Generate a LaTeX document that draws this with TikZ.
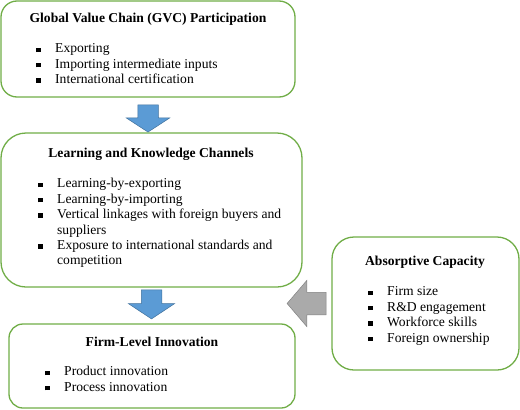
\documentclass[tikz,border=0pt]{standalone}
\usepackage{fontspec}
\setmainfont{Liberation Serif}
\usepackage{tikz}
\usetikzlibrary{positioning,shapes.arrows}
\definecolor{boxgreen}{RGB}{112,173,71}
\definecolor{arrowblue}{RGB}{91,155,213}
\definecolor{arrowblueline}{RGB}{65,113,156}
\definecolor{arrowgray}{RGB}{170,170,170}
\definecolor{arrowgrayline}{RGB}{130,130,130}
\newcommand{\sqbullet}{\rule[0.15ex]{4.4pt}{4.4pt}}

\begin{document}
\begin{tikzpicture}[%
      x=1pt, y=-1pt,
      font=\fontsize{13.6}{15.4}\selectfont,
      box/.style={draw=boxgreen, line width=1.3pt, inner sep=0pt},
      heading/.style={font=\fontsize{13.6}{15.4}\selectfont\bfseries, inner sep=0pt},
      items/.style={anchor=north west, inner sep=0pt},
      bluearrow/.style={single arrow, shape border rotate=270, fill=arrowblue,
        draw=arrowblueline, line width=0.5pt},
      grayarrow/.style={single arrow, shape border rotate=180, fill=arrowgray,
        draw=arrowgrayline, line width=0.5pt},
      ]
      \useasboundingbox (0,0) rectangle (520,410);

      \node [box, rounded corners=16pt, minimum width=294pt, minimum height=96pt] (gvc) at (148,49) {};
      \node [box, rounded corners=25pt, minimum width=301pt, minimum height=154pt] (learn) at (151.5,210) {};
      \node [box, rounded corners=14pt, minimum width=286pt, minimum height=84pt] (firm) at (152,366) {};
      \node [box, rounded corners=22pt, minimum width=187pt, minimum height=133pt] (absorb) at (425.5,303.5) {};

      \node [heading] (gvctitle) at (148,19) {Global Value Chain (GVC) Participation};
      \node [items] (gvclist) at (36,42) {%
        \begin{tabular}{@{}l@{\hspace{14.6pt}}l@{}}
          \sqbullet & Exporting\\
          \sqbullet & Importing intermediate inputs\\
          \sqbullet & International certification
        \end{tabular}};

      \node [heading] (learntitle) at (151,154) {Learning and Knowledge Channels};
      \node [items] (learnlist) at (38,177) {%
        \begin{tabular}{@{}l@{\hspace{14.6pt}}l@{}}
          \sqbullet & Learning-by-exporting\\
          \sqbullet & Learning-by-importing\\
          \sqbullet & Vertical linkages with foreign buyers and\\
                    & suppliers\\
          \sqbullet & Exposure to international standards and\\
                    & competition
        \end{tabular}};

      \node [heading] (firmtitle) at (152,342) {Firm-Level Innovation};
      \node [items] (firmlist) at (45,365) {%
        \begin{tabular}{@{}l@{\hspace{14.6pt}}l@{}}
          \sqbullet & Product innovation\\
          \sqbullet & Process innovation
        \end{tabular}};

      \node [heading] (absorbtitle) at (425,262) {Absorptive Capacity};
      \node [items] (absorblist) at (368,285) {%
        \begin{tabular}{@{}l@{\hspace{14.6pt}}l@{}}
          \sqbullet & Firm size\\
          \sqbullet & R\&D engagement\\
          \sqbullet & Workforce skills\\
          \sqbullet & Foreign ownership
        \end{tabular}};

      \node [bluearrow, inner sep=10pt, minimum height=26pt,
        single arrow head extend=11.5pt, single arrow tip angle=114,
        below=7pt of gvc] (gvcarrow) {};
      \node [bluearrow, inner sep=10pt, minimum height=29pt,
        single arrow head extend=13pt, single arrow tip angle=113,
        below=2pt of learn] (learnarrow) {};
      \node [grayarrow, inner sep=11pt, minimum height=39pt,
        single arrow head extend=12pt, single arrow tip angle=99,
        left=5pt of absorb] (absorbarrow) {};
\end{tikzpicture}
\end{document}
